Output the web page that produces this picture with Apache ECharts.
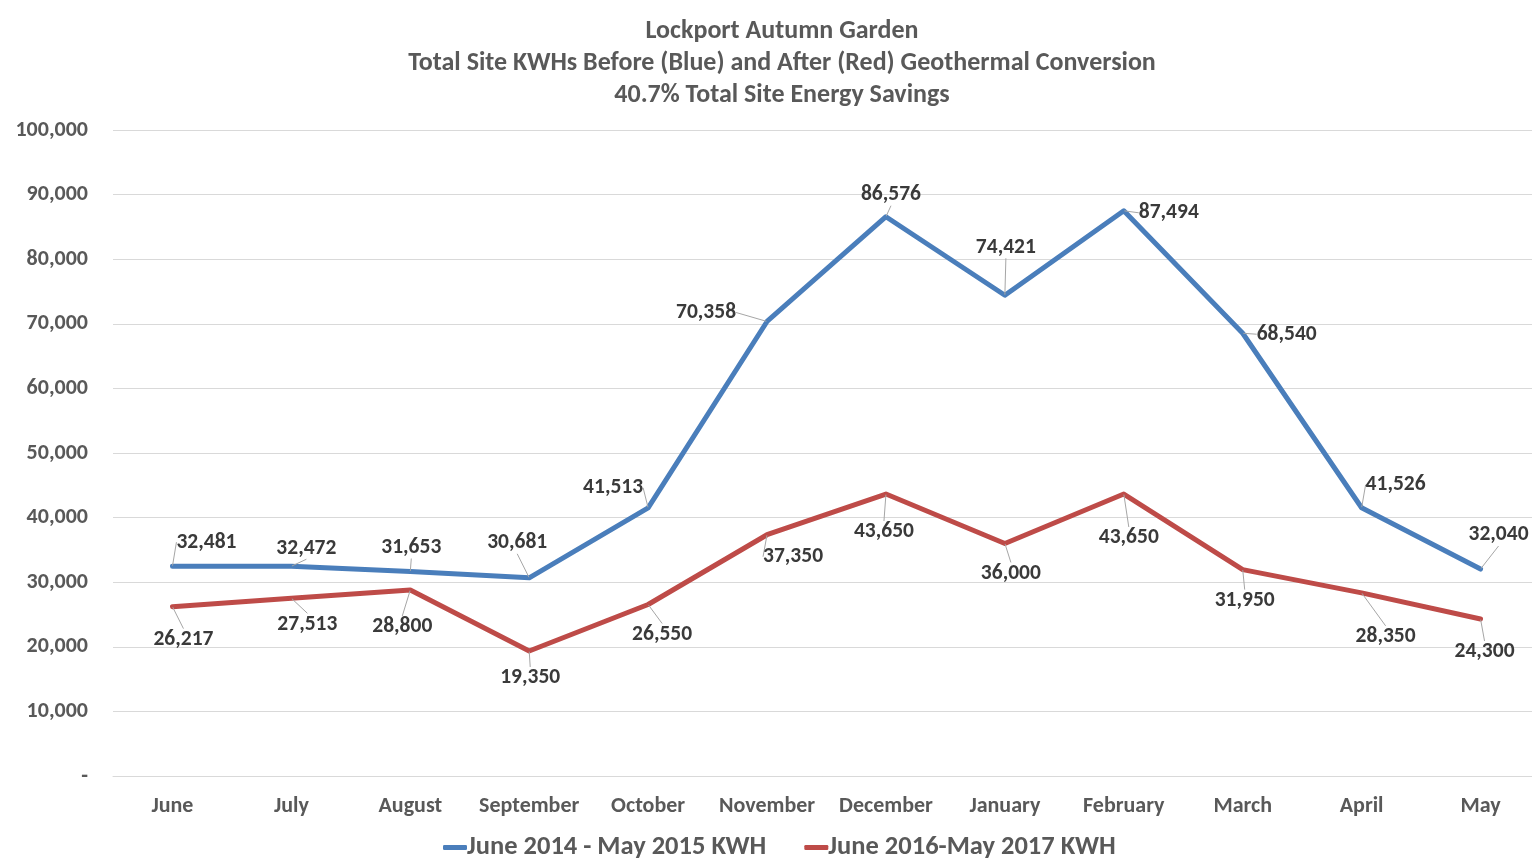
<!DOCTYPE html>
<html>
<head>
<meta charset="utf-8">
<title>Lockport Autumn Garden</title>
<script src="https://cdn.jsdelivr.net/npm/echarts@6/dist/echarts.min.js"></script>
<style>
  html, body { margin: 0; padding: 0; background: #fff; }
  #chart { width: 1532px; height: 865px; }
</style>
</head>
<body>
<div id="chart"></div>
<script>
// data
const months = ['June', 'July', 'August', 'September', 'October', 'November',
    'December', 'January', 'February', 'March', 'April', 'May'];
const before = [32481, 32472, 31653, 30681, 41513, 70358, 86576, 74421, 87494, 68540, 41526, 32040];
const after = [26217, 27513, 28800, 19350, 26550, 37350, 43650, 36000, 43650, 31950, 28350, 24300];
const seriesNames = ['June 2014 - May 2015 KWH', 'June 2016-May 2017 KWH'];
const titleLines = ['Lockport Autumn Garden',
    'Total Site KWHs Before (Blue) and After (Red) Geothermal Conversion',
    '40.7% Total Site Energy Savings'];

// where excel moved each data label, relative to its point [dx, dy]
const beforeLabelShift = [[34, -24], [15, -18], [1, -24], [-12, -35], [-35, -20], [-61, -9],
    [5, -22], [1, -48], [45, 2], [44, 1], [34, -23], [18, -34]];
const afterLabelShift = [[11, 33], [16, 26], [-8, 37], [1, 27], [14, 30], [26, 22],
    [-2, 38], [6, 30], [5, 44], [2, 31], [24, 44], [4, 33]];

const FONT = "Carlito, 'Liberation Sans Narrow', 'DejaVu Sans Condensed', sans-serif";

function fmt(v) {
    return String(v).replace(/\B(?=(\d{3})+(?!\d))/g, ',');
}

function makeSeries(name, data, color, shifts) {
    return {
        name: name,
        type: 'line',
        data: data,
        symbol: 'circle',
        symbolSize: 1,
        itemStyle: { color: color },
        lineStyle: { width: 5, color: color, join: 'round', cap: 'round' },
        label: {
            show: true,
            position: 'inside',
            formatter: p => fmt(p.value),
            fontFamily: FONT,
            fontWeight: 'bold',
            fontSize: 21.5,
            color: '#3a3a3a'
        },
        labelLine: {
            show: true,
            lineStyle: { color: '#a6a6a6', width: 1 }
        },
        labelLayout: p => ({
            dx: shifts[p.dataIndex][0],
            dy: shifts[p.dataIndex][1]
        }),
        emphasis: { disabled: true }
    };
}

const chart = echarts.init(document.getElementById('chart'));
chart.setOption({
    animation: false,
    backgroundColor: '#ffffff',
    title: {
        text: titleLines.join('\n'),
        left: 777,
        top: 10,
        textAlign: 'center',
        textStyle: {
            fontFamily: FONT,
            fontWeight: 'bold',
            fontSize: 26,
            lineHeight: 32,
            color: '#595959'
        }
    },
    legend: {
        left: 438,
        top: 829,
        itemWidth: 24,
        itemHeight: 5,
        itemGap: 38,
        icon: 'roundRect',
        textStyle: {
            fontFamily: FONT,
            fontWeight: 'bold',
            fontSize: 26.5,
            color: '#595959',
            padding: [0, 0, 0, -5]
        },
        data: seriesNames
    },
    grid: {
        left: 113,
        right: -8,
        top: 130,
        bottom: 89,
        containLabel: false,
        outerBoundsMode: 'none'
    },
    xAxis: {
        type: 'category',
        data: months,
        boundaryGap: true,
        axisLine: { lineStyle: { color: '#d9d9d9', width: 1 } },
        axisTick: { show: false },
        axisLabel: {
            interval: 0,
            margin: 19,
            fontFamily: FONT,
            fontWeight: 'bold',
            fontSize: 22,
            color: '#595959'
        }
    },
    yAxis: {
        type: 'value',
        min: 0,
        max: 100000,
        interval: 10000,
        axisLine: { show: false },
        axisTick: { show: false },
        splitLine: { lineStyle: { color: '#d9d9d9', width: 1 } },
        axisLabel: {
            margin: 25,
            formatter: v => (v === 0 ? '-' : fmt(v)),
            fontFamily: FONT,
            fontWeight: 'bold',
            fontSize: 22,
            color: '#595959'
        }
    },
    series: [
        makeSeries(seriesNames[0], before, '#4a7ebb', beforeLabelShift),
        makeSeries(seriesNames[1], after, '#be4b48', afterLabelShift)
    ]
});
</script>
</body>
</html>
